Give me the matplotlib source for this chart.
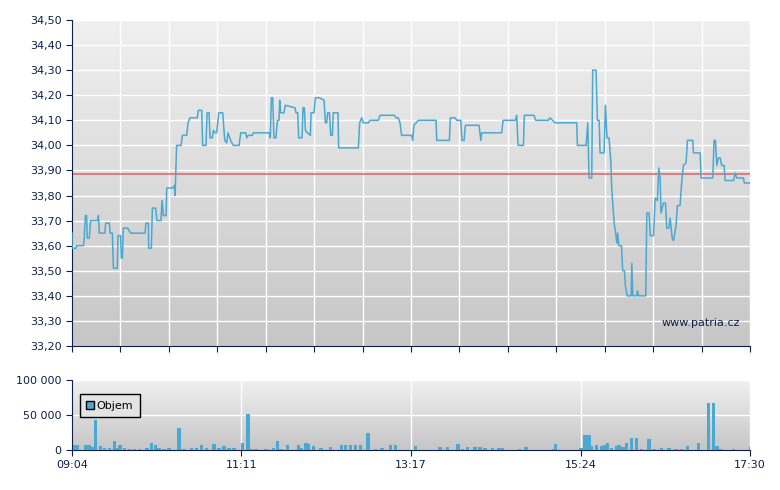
import numpy as np
import matplotlib
matplotlib.use("Agg")
import matplotlib.pyplot as plt
from matplotlib.ticker import FuncFormatter

# minutes after 09:04
price_t = [0,0,3.0,3.5,8.5,9.0,10.0,10.9,11.4,12.9,13.9,19.2,19.7,20.4,24.6,25.1,27.9,28.4,30.1,30.9,33.8,34.3,36.3,36.8,37.6,38.3,41.5,43.8,53.2,54.5,55.2,57.0,57.2,59.2,60.0,62.4,63.4,66.4,67.2,68.2,70.2,70.7,75.1,76.4,76.9,78.1,81.4,82.4,85.6,86.6,88.1,93.5,94.3,96.8,97.5,100.0,100.8,102.3,103.0,104.7,105.5,107.0,108.0,109.5,112.5,114.0,115.4,116.4,118.4,120.4,124.7,125.9,129.6,130.4,131.6,134.6,135.3,147.3,148.0,148.8,149.8,150.7,152.2,153.3,154.5,155.0,155.7,158.2,159.2,166.4,167.2,168.4,169.2,171.7,172.4,173.4,174.2,175.7,177.9,178.4,180.6,181.6,184.6,188.1,189.1,190.1,190.8,192.1,193.1,194.3,195.0,198.5,199.0,213.7,214.7,216.2,217.4,221.1,222.4,228.6,229.9,240.6,241.8,243.5,244.8,246.0,253.5,254.2,255.2,258.5,
271.7,272.2,281.6,282.4,285.9,287.1,290.1,291.1,292.6,293.6,303.8,305.1,305.8,320.7,321.7,324.5,330.9,331.9,332.9,336.9,337.6,344.8,346.1,355.5,356.8,360.5,376.7,377.2,383.7,384.9,385.9,387.9,388.6,391.1,392.1,393.4,394.1,397.1,398.1,399.3,400.8,402.1,402.8,404.6,405.8,406.6,407.3,408.1,410.1,411.0,412.3,413.0,414.3,417.3,417.8,418.5,421.5,422.0,422.8,428.2,429.0,430.7,431.5,434.0,435.2,436.9,437.9,438.9,439.6,441.4,442.9,443.9,445.4,446.4,447.9,448.9,450.8,451.8,453.8,455.1,456.3,458.3,459.3,463.3,463.8,468.8,469.5,478.2,479.2,480.2,481.2,482.4,483.7,484.9,486.7,487.4,490.7,493.7,494.9,496.1,501.1,501.8,506.0]
price_v = [33.65,33.59,33.59,33.60,33.60,33.62,33.72,33.72,33.63,33.63,33.70,33.70,33.72,33.65,33.65,33.69,33.69,33.65,33.65,33.51,33.51,33.64,33.64,33.55,33.55,33.67,33.67,33.65,33.65,33.65,33.69,33.69,33.59,33.59,33.75,33.75,33.70,33.70,33.78,33.72,33.72,33.83,33.83,33.84,33.80,34.00,34.00,34.04,34.04,34.09,34.11,34.11,34.14,34.14,34.00,34.00,34.13,34.13,34.03,34.03,34.06,34.05,34.05,34.13,34.13,34.02,34.01,34.05,34.02,34.00,34.00,34.05,34.05,34.03,34.04,34.04,34.05,34.05,34.03,34.19,34.19,34.03,34.03,34.10,34.10,34.18,34.13,34.13,34.16,34.15,34.13,34.13,34.03,34.03,34.15,34.15,34.06,34.05,34.04,34.13,34.13,34.19,34.19,34.18,34.09,34.09,34.13,34.13,34.04,34.04,34.13,34.13,33.99,33.99,34.09,34.11,34.09,34.09,34.10,34.10,34.12,34.12,34.11,34.11,34.09,34.04,34.04,34.02,34.08,34.10,
34.10,34.02,34.02,34.11,34.11,34.10,34.10,34.02,34.02,34.08,34.08,34.02,34.05,34.05,34.10,34.10,34.10,34.12,34.00,34.00,34.12,34.12,34.10,34.10,34.11,34.09,34.09,34.00,34.00,34.09,33.87,33.87,34.30,34.30,34.10,34.10,33.97,33.97,34.16,34.03,34.03,33.94,33.83,33.69,33.65,33.61,33.65,33.60,33.60,33.50,33.50,33.44,33.40,33.40,33.53,33.40,33.40,33.42,33.40,33.40,33.73,33.73,33.64,33.64,33.79,33.78,33.91,33.87,33.73,33.77,33.77,33.67,33.67,33.71,33.63,33.62,33.68,33.76,33.76,33.86,33.92,33.93,34.02,34.02,33.97,33.97,33.87,33.87,34.02,34.02,33.92,33.95,33.95,33.92,33.92,33.86,33.86,33.86,33.89,33.87,33.87,33.85,33.85]
prev_close = 33.886

vol_t = [0.7,2.6,9.3,11.9,13.7,16.3,20.0,23.0,26.7,30.4,32.3,34.5,37.8,41.6,45.3,49.0,54.5,58.2,61.2,63.8,67.5,71.2,78.7,82.4,87.9,91.6,95.3,99.1,104.6,108.3,112.0,115.8,119.5,125.8,130.2,132.4,136.2,143.6,149.1,152.1,154.7,159.5,167.7,169.5,173.3,175.1,178.8,184.4,191.8,199.9,202.9,206.6,210.4,214.1,219.6,225.2,230.0,236.3,240.0,254.9,273.4,279.0,286.8,290.1,293.8,299.4,303.1,306.8,312.4,317.2,319.8,332.8,337.6,358.0,359.5,378.4,381.0,382.9,384.8,386.6,390.3,394.1,396.6,398.5,401.4,405.2,407.0,410.0,412.6,416.3,420.0,423.7,429.2,432.9,438.5,444.1,449.6,453.4,458.2,466.4,473.8,477.5,480.1,483.0,492.3,505.3]
vol_v = [7200,7200,7200,7200,4800,43300,5800,3400,3400,13000,3400,7200,3400,1900,1900,1900,3400,10100,7200,3400,1400,3400,31300,1400,3400,3400,7200,3400,8200,3400,5800,3400,3400,9600,52000,1400,1400,1400,3400,13500,1400,7200,7200,3400,10100,8200,5800,3400,4800,7200,7200,7200,7200,7200,24500,1400,3400,7200,7200,5800,4300,4300,8200,1400,4300,4300,4300,3400,2900,2900,2900,1400,4300,1400,8700,2900,21600,21600,21600,5800,7200,5800,7200,10100,2900,5800,7200,3800,10600,17300,17300,1400,15900,1400,2900,2900,1400,1400,5800,10100,67800,67800,5800,1400,1400,4300]

x_labels = ["09:04", "11:11", "13:17", "15:24", "17:30"]
total = 506.0
navy = "#0d1f4a"
line_c = "#4aa8d2"

fig = plt.figure(figsize=(7.8, 4.9), dpi=100)
ax = fig.add_axes([72/780, 1-346/490, 678/780, 326/490])
axv = fig.add_axes([72/780, 1-450/490, 678/780, 70/490])

def style(a, ylim):
    grad = np.linspace(0, 1, 256).reshape(-1, 1)
    a.imshow(grad, cmap=matplotlib.colors.LinearSegmentedColormap.from_list("g", ["#f0f0f0", "#c6c6c6"]),
             extent=[0, total, ylim[0], ylim[1]], aspect="auto", origin="upper", zorder=0)
    a.set_xlim(0, total); a.set_ylim(*ylim)
    for s in ["top", "right"]:
        a.spines[s].set_visible(False)
    for s in ["left", "bottom"]:
        a.spines[s].set_color(navy)
    a.tick_params(colors=navy, labelcolor=navy, labelsize=8, direction="out", length=4)

style(ax, (33.2, 34.5))
yt = np.round(np.arange(33.2, 34.501, 0.1), 2)
ax.set_yticks(yt)
ax.yaxis.set_major_formatter(FuncFormatter(lambda v, p: f"{v:.2f}".replace(".", ",")))
xt = np.linspace(0, total, 15)
ax.set_xticks(xt); ax.set_xticklabels([])
for y in yt[1:]:
    ax.axhline(y, color="white", lw=1, zorder=1)
for x in xt[1:]:
    ax.axvline(x, color="white", lw=1, zorder=1)
ax.axhline(prev_close, color="#e05050", lw=1.2, alpha=0.8, zorder=2)
ax.plot(price_t, price_v, color=line_c, lw=1.1, zorder=3)
ax.text(0.985, 0.07, "www.patria.cz", transform=ax.transAxes, ha="right", va="center", color=navy, fontsize=8)

style(axv, (0, 100000))
axv.set_yticks([0, 50000, 100000])
axv.set_yticklabels(["0", "50 000", "100 000"])
vxt = np.linspace(0, total, 5)
axv.set_xticks(vxt); axv.set_xticklabels(x_labels)
for y in [50000, 100000]:
    axv.axhline(y, color="white", lw=1, zorder=1)
for x in vxt[1:]:
    axv.axvline(x, color="white", lw=1, zorder=1)
axv.bar(vol_t, vol_v, width=2.6, color="#49a9d3", align="edge", zorder=3)
leg = axv.legend(handles=[matplotlib.patches.Patch(facecolor="#49a9d3", edgecolor="black", label="Objem")],
                 loc="upper left", bbox_to_anchor=(0.003, 0.88), frameon=True, fancybox=False,
                 fontsize=8, handlelength=0.7, handleheight=0.7, handletextpad=0.2, borderpad=0.6)
leg.get_frame().set_edgecolor("black"); leg.get_frame().set_facecolor("#e4e4e4"); leg.get_frame().set_alpha(1)

fig.savefig("out.png", dpi=100)
